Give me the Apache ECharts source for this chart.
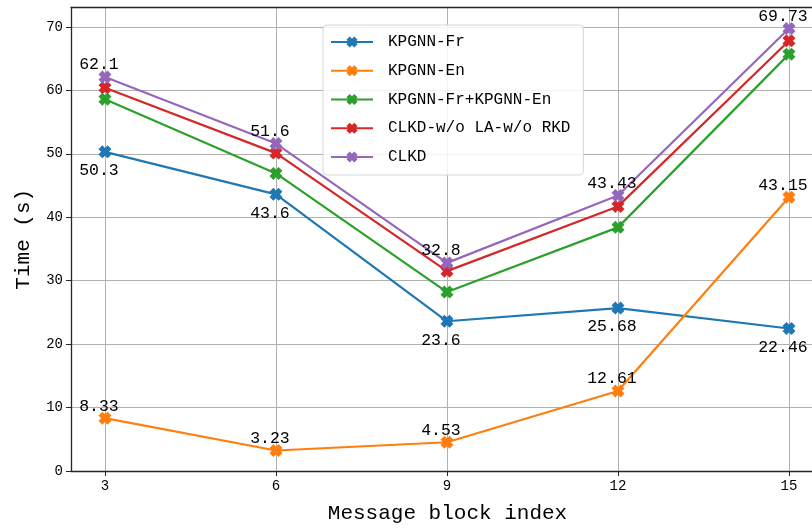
<!DOCTYPE html>
<html>
<head>
<meta charset="utf-8">
<script src="https://cdn.jsdelivr.net/npm/echarts@6/dist/echarts.min.js"></script>
<style>
  html, body { margin: 0; padding: 0; background: #fff; }
  #chart { width: 812px; height: 529px; }
</style>
</head>
<body>
<div id="chart"></div>
<script>
// Message block indices on the x axis
const blocks = [3, 6, 9, 12, 15];
const yTicks = [0, 10, 20, 30, 40, 50, 60, 70];

// Time (s) per method
const kpgnnFr = [50.3, 43.6, 23.6, 25.68, 22.46];
const kpgnnEn = [8.33, 3.23, 4.53, 12.61, 43.15];
const kpgnnFrEn = [58.6, 46.9, 28.2, 38.4, 65.7];
const clkdNoLaNoRkd = [60.4, 50.1, 31.5, 41.7, 67.8];
const clkd = [62.1, 51.6, 32.8, 43.43, 69.73];

const seriesNames = ['KPGNN-Fr', 'KPGNN-En', 'KPGNN-Fr+KPGNN-En', 'CLKD-w/o LA-w/o RKD', 'CLKD'];
const seriesColors = ['#1f77b4', '#ff7f0e', '#2ca02c', '#d62728', '#9467bd'];
const seriesValues = [kpgnnFr, kpgnnEn, kpgnnFrEn, clkdNoLaNoRkd, clkd];
const labelPositions = ['bottom', 'top', null, null, 'top'];

const FONT = 'Liberation Mono';
const AXIS_COLOR = '#262626';
// filled "X" marker
const xMarker = 'path://M3,0 L5,2 L7,0 L10,3 L8,5 L10,7 L7,10 L5,8 L3,10 L0,7 L2,5 L0,3 Z';

const series = seriesNames.map((name, i) => ({
  name,
  type: 'line',
  data: blocks.map((b, j) => [b, seriesValues[i][j]]),
  color: seriesColors[i],
  lineStyle: { width: 2.2, color: seriesColors[i] },
  itemStyle: { color: seriesColors[i] },
  symbol: xMarker,
  symbolSize: 13,
  showAllSymbol: true,
  z: 2 + i,
  label: labelPositions[i] ? {
    show: true,
    position: labelPositions[i],
    distance: labelPositions[i] === 'top' ? -3 : 4,
    offset: [-6, 0],
    fontFamily: FONT,
    fontSize: 16.5,
    color: '#000',
    formatter: p => String(p.value[1])
  } : { show: false }
}));

// The plot runs off the right edge of the canvas, so the x range stops at the canvas edge.
const X_MIN = 2.404;
const X_MAX = 15.404;

const chart = echarts.init(document.getElementById('chart'), null, { renderer: 'canvas' });
chart.setOption({
  animation: false,
  backgroundColor: '#fff',
  grid: { left: 71, top: 7.5, right: 0, height: 466.5 },
  legend: {
    orient: 'vertical',
    left: 323, top: 25,
    padding: [9, 13, 10, 7],
    itemWidth: 42, itemHeight: 14, itemGap: 12.75,
    backgroundColor: 'rgba(255,255,255,0.85)',
    borderColor: '#d6d6d6', borderWidth: 1, borderRadius: 4,
    textStyle: { fontFamily: FONT, fontSize: 16, color: '#000', padding: [0, 0, 0, 10] },
    data: seriesNames
  },
  xAxis: [{
    type: 'value',
    min: X_MIN, max: X_MAX,
    name: 'Message block index',
    nameLocation: 'middle',
    nameGap: 32,
    nameTextStyle: { fontFamily: FONT, fontSize: 21, color: '#000', padding: [0, 0, 0, 12] },
    axisLine: { show: true, lineStyle: { color: AXIS_COLOR, width: 1.3 } },
    axisTick: { show: true, length: 5, lineStyle: { color: AXIS_COLOR }, customValues: blocks },
    axisLabel: { fontFamily: FONT, fontSize: 14, color: '#000', margin: 8, customValues: blocks },
    splitLine: { show: true, lineStyle: { color: '#b0b0b0', width: 1 } }
  }, {
    // top frame line
    type: 'value',
    position: 'top',
    min: X_MIN, max: X_MAX,
    axisLine: { show: true, lineStyle: { color: AXIS_COLOR, width: 1.3 } },
    axisTick: { show: false },
    axisLabel: { show: false },
    splitLine: { show: false }
  }],
  yAxis: {
    type: 'value',
    min: 0, max: 73.05,
    name: 'Time (s)',
    nameLocation: 'middle',
    nameGap: 37,
    nameTextStyle: { fontFamily: FONT, fontSize: 21, color: '#000' },
    axisLine: { show: true, lineStyle: { color: AXIS_COLOR, width: 1.3 } },
    axisTick: { show: true, length: 5, lineStyle: { color: AXIS_COLOR }, customValues: yTicks },
    axisLabel: { fontFamily: FONT, fontSize: 14, color: '#000', margin: 8, customValues: yTicks },
    splitLine: { show: true, lineStyle: { color: '#b0b0b0', width: 1 } }
  },
  series
});
</script>
</body>
</html>
